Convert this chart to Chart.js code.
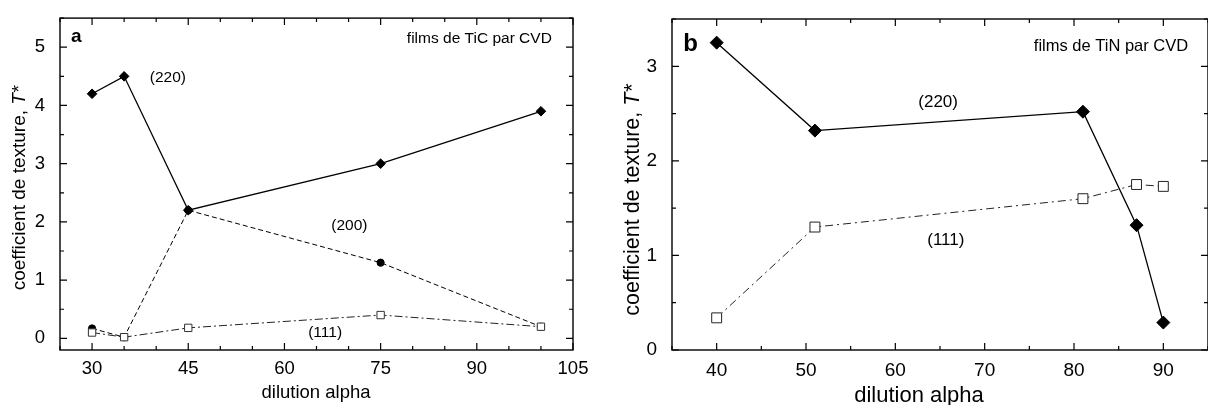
<!DOCTYPE html>
<html><head><meta charset="utf-8">
<script src="https://cdn.jsdelivr.net/npm/chart.js@4/dist/chart.umd.min.js"></script>
<style>
html,body{margin:0;padding:0;background:#fff;overflow:hidden;width:1208px;height:405px;position:relative}
#c1{position:absolute;left:0;top:0}
#c2{position:absolute;left:600px;top:0}
</style></head>
<body>
<canvas id="c1" width="600" height="405"></canvas>
<canvas id="c2" width="620" height="405"></canvas>
<script>
const FONT = "'Liberation Sans', Arial, Helvetica, sans-serif";

// Panel a — films de TiC par CVD
const ticAlpha = [30, 35, 45, 75, 100];
const tic220 = [4.2, 4.5, 2.2, 3.0, 3.9];
const tic200 = [0.17, 0.02, 2.2, 1.3, 0.2];
const tic111 = [0.1, 0.02, 0.18, 0.4, 0.2];
const ticXTicks = [30, 45, 60, 75, 90, 105];
const ticYTicks = [0, 1, 2, 3, 4, 5];

// Panel b — films de TiN par CVD
const tinAlpha = [40, 51, 81, 87, 90];
const tin220 = [3.25, 2.32, 2.52, 1.32, 0.29];
const tin111 = [0.34, 1.3, 1.6, 1.75, 1.73];
const tinXTicks = [40, 50, 60, 70, 80, 90];
const tinYTicks = [0, 1, 2, 3];

const pts = (xs, ys) => xs.map((x, i) => ({x, y: ys[i]}));

const panelPlugin = {
  id: 'panel',
  afterDraw(chart) {
    const o = chart.options.plugins.panel;
    const {ctx, chartArea: a, scales: {x, y}} = chart;
    ctx.save();
    // inward ticks on all four sides
    ctx.strokeStyle = '#000';
    ctx.lineWidth = 1.2;
    ctx.beginPath();
    const xMaj = x.ticks.map(t => t.value);
    const yMaj = y.ticks.map(t => t.value);
    for (let k = Math.ceil(x.min / o.xMinor); k * o.xMinor <= x.max + 1e-9; k++) {
      const v = k * o.xMinor;
      const px = x.getPixelForValue(v);
      const len = xMaj.some(m => Math.abs(m - v) < 1e-6) ? o.major : o.minor;
      ctx.moveTo(px, a.bottom); ctx.lineTo(px, a.bottom - len);
      ctx.moveTo(px, a.top); ctx.lineTo(px, a.top + len);
    }
    for (let k = Math.ceil(y.min / o.yMinor); k * o.yMinor <= y.max + 1e-9; k++) {
      const v = k * o.yMinor;
      const py = y.getPixelForValue(v);
      const len = yMaj.some(m => Math.abs(m - v) < 1e-6) ? o.major : o.minor;
      ctx.moveTo(a.left, py); ctx.lineTo(a.left + len, py);
      ctx.moveTo(a.right, py); ctx.lineTo(a.right - len, py);
    }
    ctx.stroke();
    ctx.lineWidth = 1.4;
    ctx.strokeRect(a.left, a.top, a.right - a.left, a.bottom - a.top);

    // annotations (data coordinates)
    ctx.fillStyle = '#000';
    ctx.textBaseline = 'alphabetic';
    o.texts.forEach(t => {
      ctx.font = t.font + ' ' + FONT;
      ctx.textAlign = t.align || 'left';
      ctx.fillText(t.text, x.getPixelForValue(t.x), y.getPixelForValue(t.y));
    });

    // x title
    ctx.font = o.xTitle.size + 'px ' + FONT;
    ctx.textAlign = 'center';
    ctx.fillText(o.xTitle.text, o.xTitle.cx - chart.canvas.offsetLeft, o.xTitle.base);

    // y title with italic T*
    const yt = o.yTitle;
    ctx.translate(yt.cx - chart.canvas.offsetLeft, yt.cy);
    ctx.rotate(-Math.PI / 2);
    ctx.textAlign = 'left';
    ctx.textBaseline = 'middle';
    const fN = yt.size + 'px ' + FONT, fI = 'italic ' + yt.size + 'px ' + FONT;
    ctx.font = fN; const w1 = ctx.measureText(yt.text).width;
    ctx.font = fI; const w2 = ctx.measureText(yt.italic).width;
    const sx = -(w1 + w2) / 2;
    ctx.font = fN; ctx.fillText(yt.text, sx, 0);
    ctx.font = fI; ctx.fillText(yt.italic, sx + w1, 0);
    ctx.restore();
  }
};

function scales(xmin, xmax, xt, ymin, ymax, yt, yWidth, tickSize, xPad) {
  const tickFont = {family: FONT, size: tickSize};
  return {
    x: {
      type: 'linear', min: xmin, max: xmax,
      afterBuildTicks: s => { s.ticks = xt.map(v => ({value: v})); },
      afterFit: s => { s.height = 55; },
      grid: {display: false}, border: {display: false},
      ticks: {font: tickFont, color: '#000', padding: xPad, maxRotation: 0, autoSkip: false}
    },
    y: {
      type: 'linear', min: ymin, max: ymax,
      afterBuildTicks: s => { s.ticks = yt.map(v => ({value: v})); },
      afterFit: s => { s.width = yWidth; },
      grid: {display: false}, border: {display: false},
      ticks: {font: tickFont, color: '#000', padding: 7, autoSkip: false}
    }
  };
}

const common = {
  responsive: false, animation: false,
  events: [],
};

new Chart(document.getElementById('c1'), {
  type: 'scatter',
  data: {
    datasets: [
      {label: '(111)', data: pts(ticAlpha, tic111), showLine: true, order: 0,
       borderColor: '#222', borderWidth: 1, borderDash: [8, 3, 2, 3],
       pointStyle: 'rect', pointRadius: 5.2, pointBackgroundColor: '#fff', pointBorderColor: '#333', pointBorderWidth: 1},
      {label: '(220)', data: pts(ticAlpha, tic220), showLine: true, order: 1,
       borderColor: '#000', borderWidth: 1.3,
       pointStyle: 'rectRot', pointRadius: 4.8, pointBackgroundColor: '#000', pointBorderColor: '#000', pointBorderWidth: 1},
      {label: '(200)', data: pts(ticAlpha, tic200), showLine: true, order: 2,
       borderColor: '#000', borderWidth: 1, borderDash: [5, 3],
       pointStyle: 'circle', pointRadius: 3.6, pointBackgroundColor: '#000', pointBorderColor: '#000', pointBorderWidth: 1}
    ]
  },
  options: Object.assign({}, common, {
    layout: {padding: {top: 10, right: 27, left: 0, bottom: 0}},
    scales: scales(25, 105, ticXTicks, -0.2, 5.5, ticYTicks, 60, 18.5, 0),
    plugins: {
      legend: {display: false}, tooltip: {enabled: false},
      panel: {
        xMinor: 5, yMinor: 0.5, major: 7, minor: 4,
        texts: [
          {text: 'a', x: 26.7, y: 5.084, font: 'bold 19px'},
          {text: '(220)', x: 39.0, y: 4.40, font: '15.5px'},
          {text: 'films de TiC par CVD', x: 101.7, y: 5.07, font: '15.5px', align: 'right'},
          {text: '(200)', x: 67.3, y: 1.868, font: '15.5px'},
          {text: '(111)', x: 63.7, y: 0.02, font: '15.5px'}
        ],
        xTitle: {text: 'dilution alpha', cx: 316, base: 398, size: 18.5},
        yTitle: {text: 'coefficient de texture, ', italic: 'T*', cx: 20, cy: 188, size: 19}
      }
    }
  }),
  plugins: [panelPlugin]
});

new Chart(document.getElementById('c2'), {
  type: 'scatter',
  data: {
    datasets: [
      {label: '(220)', data: pts(tinAlpha, tin220), showLine: true, order: 0,
       borderColor: '#000', borderWidth: 1.3,
       pointStyle: 'rectRot', pointRadius: 6.5, pointBackgroundColor: '#000', pointBorderColor: '#000', pointBorderWidth: 1},
      {label: '(111)', data: pts(tinAlpha, tin111), showLine: true, order: 1,
       borderColor: '#222', borderWidth: 1, borderDash: [8, 4, 2, 4],
       pointStyle: 'rect', pointRadius: 7, pointBackgroundColor: '#fff', pointBorderColor: '#222', pointBorderWidth: 1}
    ]
  },
  options: Object.assign({}, common, {
    layout: {padding: {top: 19, right: 12, left: 0, bottom: 0}},
    scales: scales(35, 95, tinXTicks, 0, 3.5, tinYTicks, 72, 19, 1),
    plugins: {
      legend: {display: false}, tooltip: {enabled: false},
      panel: {
        xMinor: 5, yMinor: 0.5, major: 7, minor: 4,
        texts: [
          {text: 'b', x: 36.26, y: 3.16, font: 'bold 24px'},
          {text: 'films de TiN par CVD', x: 92.78, y: 3.157, font: '16.5px', align: 'right'},
          {text: '(220)', x: 62.57, y: 2.566, font: '17px'},
          {text: '(111)', x: 63.57, y: 1.109, font: '17px'}
        ],
        xTitle: {text: 'dilution alpha', cx: 919, base: 402, size: 22},
        yTitle: {text: 'coefficient de texture, ', italic: 'T*', cx: 633, cy: 200, size: 21.5}
      }
    }
  }),
  plugins: [panelPlugin]
});
</script>
</body></html>
